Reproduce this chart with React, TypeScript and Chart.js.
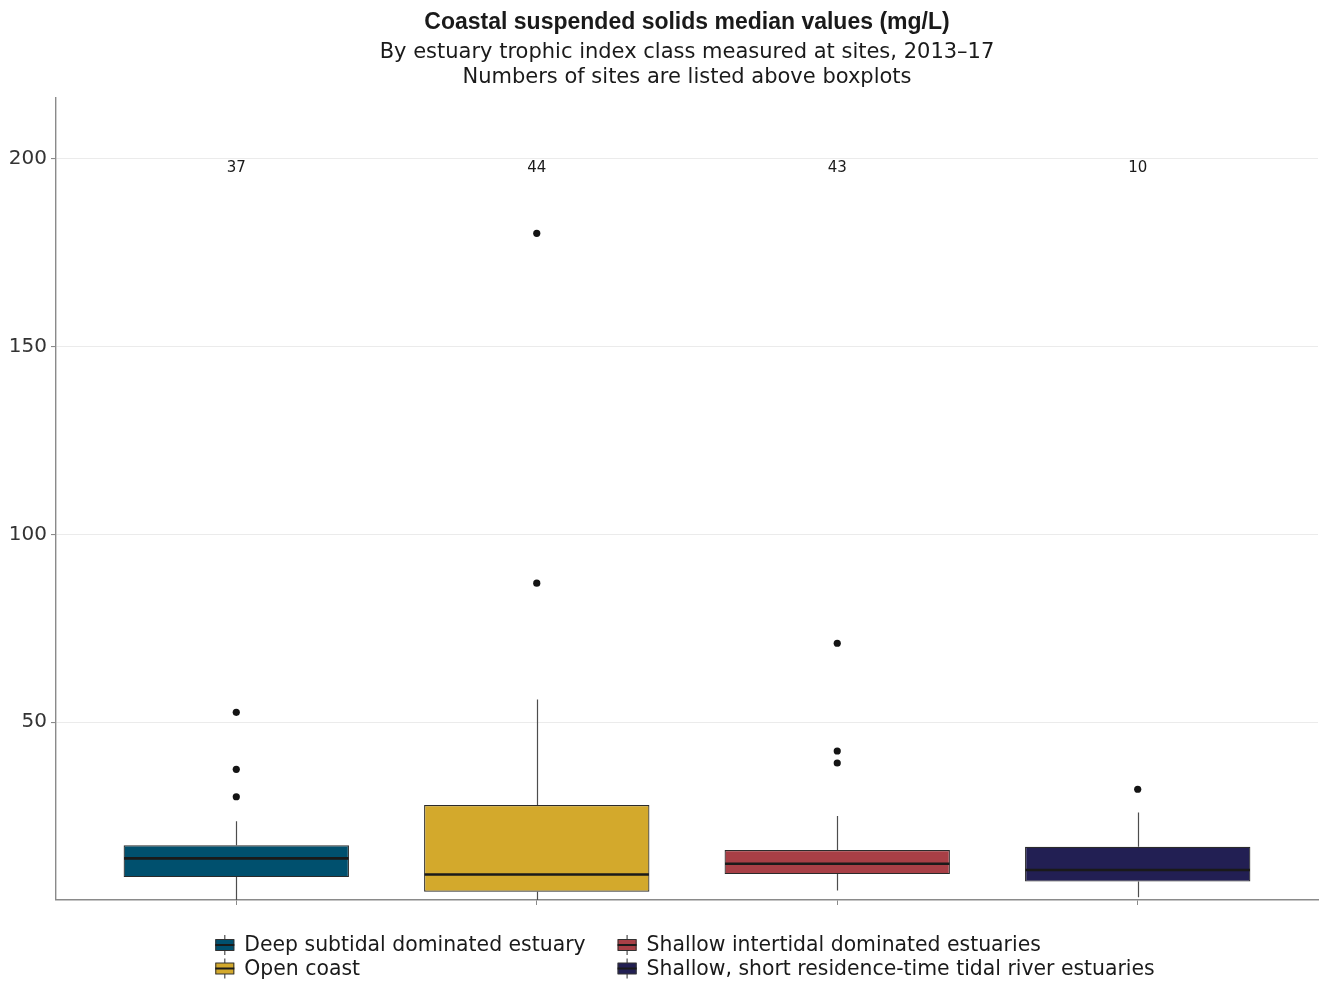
import React, { useEffect, useRef } from 'react';
import { Chart, registerables } from 'chart.js';

Chart.register(...registerables);

const titleText = 'Coastal suspended solids median values (mg/L)';
const subtitleLines = [
  'By estuary trophic index class measured at sites, 2013\u201317',
  'Numbers of sites are listed above boxplots',
];

const categories = [
  'Deep subtidal dominated estuary',
  'Open coast',
  'Shallow intertidal dominated estuaries',
  'Shallow, short residence-time tidal river estuaries',
];
const siteCounts = [37, 44, 43, 10];
const whiskerLow = [1.5, 1.0, 5.1, 3.3];
const q1 = [8.7, 4.8, 9.5, 7.5];
const median = [13.7, 9.4, 12.25, 10.6];
const q3 = [17.2, 27.9, 15.9, 16.8];
const whiskerHigh = [23.6, 56.0, 25.0, 25.9];
const outliers = [
  [52.6, 37.4, 30.1],
  [180.2, 87.0],
  [71.0, 42.3, 39.1],
  [32.1],
];
const yTicks = [50, 100, 150, 200];
const colors = ['#00506E', '#D3A92C', '#A83F46', '#221F53'];

const FONT = "'DejaVu Sans', 'Liberation Sans', sans-serif";
const TITLE_FONT = "'Liberation Sans', Arial, sans-serif";
const COUNT_LABEL_Y = 197.6;

const boxParts = {
  id: 'boxParts',
  beforeDatasetsDraw(chart: any) {
    const { ctx, chartArea, scales } = chart;
    const x = scales.x;
    const y = scales.y;
    ctx.save();
    ctx.beginPath();
    ctx.rect(chartArea.left, chartArea.top, chartArea.right - chartArea.left, chartArea.bottom - chartArea.top);
    ctx.clip();
    ctx.strokeStyle = '#4d4d4d';
    ctx.lineWidth = 1.2;
    categories.forEach((_, i) => {
      const px = Math.round(x.getPixelForValue(i + 1)) + 0.5;
      ctx.beginPath();
      ctx.moveTo(px, y.getPixelForValue(whiskerHigh[i]));
      ctx.lineTo(px, y.getPixelForValue(q3[i]));
      ctx.moveTo(px, y.getPixelForValue(q1[i]));
      ctx.lineTo(px, y.getPixelForValue(whiskerLow[i]));
      ctx.stroke();
    });
    ctx.restore();
  },
  afterDatasetsDraw(chart: any) {
    const { ctx, scales } = chart;
    const x = scales.x;
    const y = scales.y;
    const metas = chart.getSortedVisibleDatasetMetas().filter((m: any) => m.type === 'bar');
    ctx.save();
    metas.forEach((m: any) => {
      const idx = m.index;
      const el = m.data[0];
      if (!el) return;
      const { x: cx, width } = el.getProps(['x', 'width'], true);
      const py = y.getPixelForValue(median[idx]);
      ctx.strokeStyle = '#1a1a1a';
      ctx.lineWidth = 2.6;
      ctx.beginPath();
      ctx.moveTo(cx - width / 2 + 0.5, py);
      ctx.lineTo(cx + width / 2 - 0.5, py);
      ctx.stroke();
    });
    ctx.fillStyle = '#1a1a1a';
    ctx.font = `15px ${FONT}`;
    ctx.textAlign = 'center';
    ctx.textBaseline = 'middle';
    siteCounts.forEach((n, i) => {
      ctx.fillText(String(n), x.getPixelForValue(i + 1), y.getPixelForValue(COUNT_LABEL_Y));
    });
    ctx.restore();
  },
  afterDraw(chart: any) {
    const { ctx, chartArea } = chart;
    ctx.save();
    ctx.font = `20.4px ${FONT}`;
    const widths = categories.map((c) => ctx.measureText(c).width);
    const iconW = 19;
    const gapIcon = 10;
    const colGap = 32;
    const col1W = Math.max(widths[0], widths[1]);
    const col2W = Math.max(widths[2], widths[3]);
    const total = iconW + gapIcon + col1W + colGap + iconW + gapIcon + col2W;
    const center = (chartArea.left + chartArea.right) / 2 - 2;
    const start = center - total / 2;
    const colX = [start, start + iconW + gapIcon + col1W + colGap];
    const rowY = [chartArea.bottom + 45, chartArea.bottom + 68.5];
    categories.forEach((c, i) => {
      const col = i < 2 ? 0 : 1;
      const row = i % 2;
      const ix = colX[col];
      const cy = rowY[row];
      ctx.strokeStyle = '#4d4d4d';
      ctx.lineWidth = 1.2;
      ctx.beginPath();
      ctx.moveTo(ix + iconW / 2, cy - 10);
      ctx.lineTo(ix + iconW / 2, cy + 10);
      ctx.stroke();
      ctx.fillStyle = colors[i];
      ctx.fillRect(ix, cy - 5.5, iconW, 11);
      ctx.strokeStyle = '#333333';
      ctx.lineWidth = 1;
      ctx.strokeRect(ix + 0.5, cy - 5.5, iconW - 1, 11);
      ctx.strokeStyle = '#1a1a1a';
      ctx.lineWidth = 2;
      ctx.beginPath();
      ctx.moveTo(ix, cy);
      ctx.lineTo(ix + iconW, cy);
      ctx.stroke();
      ctx.fillStyle = '#1a1a1a';
      ctx.textAlign = 'left';
      ctx.textBaseline = 'middle';
      ctx.fillText(c, ix + iconW + gapIcon, cy + 1);
    });
    ctx.restore();
  },
};

export default function App() {
  const ref = useRef<HTMLCanvasElement>(null);
  useEffect(() => {
    const canvas = ref.current;
    if (!canvas) return;
    Chart.defaults.font.family = FONT;
    const boxDatasets: any[] = categories.map((c, i) => ({
      type: 'bar',
      label: c,
      data: [{ x: i + 1, y: [q1[i], q3[i]] }],
      backgroundColor: colors[i],
      borderColor: '#2b2b2b',
      borderWidth: 1.2,
      borderSkipped: false,
      grouped: false,
      barPercentage: 0.75,
      categoryPercentage: 1,
      order: 1,
    }));
    const outlierDataset: any = {
      type: 'scatter',
      label: 'Outliers',
      data: outliers.flatMap((arr, i) => arr.map((v) => ({ x: i + 1, y: v }))),
      backgroundColor: '#141414',
      borderColor: '#141414',
      borderWidth: 0,
      pointRadius: 3.6,
      order: 0,
    };
    const chart = new Chart(canvas, {
      type: 'bar',
      data: { datasets: [...boxDatasets, outlierDataset] },
      options: {
        animation: false,
        responsive: false,
        devicePixelRatio: 1,
        layout: { padding: { left: 0, right: 7, top: 0, bottom: 0 } },
        plugins: {
          legend: { display: false },
          tooltip: { enabled: false },
          title: {
            display: true,
            text: titleText,
            fullSize: false,
            color: '#1a1a1a',
            font: { family: TITLE_FONT, size: 23, weight: 'bold' },
            padding: { top: 8.5, bottom: 3 },
          },
          subtitle: {
            display: true,
            text: subtitleLines,
            fullSize: false,
            color: '#1a1a1a',
            font: { family: FONT, size: 21, lineHeight: 1.2 },
            padding: { top: 1, bottom: 7.7 },
          },
        },
        scales: {
          x: {
            type: 'linear',
            min: 0.4,
            max: 4.6,
            offset: false,
            afterBuildTicks: (s: any) => {
              s.ticks = categories.map((_, i) => ({ value: i + 1 }));
            },
            afterFit: (s: any) => {
              s.height = 85;
            },
            ticks: { display: false },
            grid: {
              display: true,
              offset: false,
              drawOnChartArea: false,
              drawTicks: true,
              tickLength: 5,
              tickColor: '#8a8a8a',
            },
            border: { display: true, color: '#8a8a8a', width: 1.4 },
          },
          y: {
            type: 'linear',
            min: 2.6,
            max: 216.2,
            afterBuildTicks: (s: any) => {
              s.ticks = yTicks.map((v) => ({ value: v }));
            },
            afterFit: (s: any) => {
              s.width = 56;
            },
            ticks: {
              color: '#333333',
              font: { family: FONT, size: 20 },
              padding: 4,
            },
            grid: {
              color: '#ebebeb',
              lineWidth: 1.1,
              drawTicks: true,
              tickLength: 5,
              tickColor: '#8a8a8a',
            },
            border: { display: true, color: '#8a8a8a', width: 1.4 },
          },
        },
      },
      plugins: [boxParts],
    } as any);
    return () => chart.destroy();
  }, []);
  return (
    <canvas
      ref={ref}
      width={1325}
      height={985}
      style={{ position: 'absolute', left: 0, top: 0, width: 1325, height: 985, display: 'block' }}
    />
  );
}
